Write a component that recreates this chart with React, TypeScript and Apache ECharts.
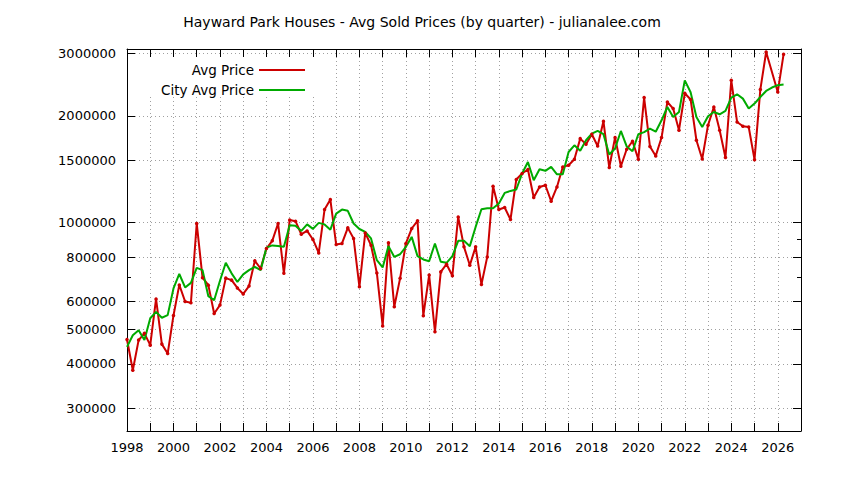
import { useEffect, useRef } from 'react'
import * as echarts from 'echarts'

const TITLE = 'Hayward Park Houses - Avg Sold Prices (by quarter) - julianalee.com'
const FONT = 'DejaVu Sans'
const START_YEAR = 1998 // first quarter of the data

// quarterly averages, 1998 Q1 .. 2026 Q2 (null = no sales that quarter)
const avgPrice = [
  469000, 384000, 467000, 488000,
  452000, 610000, 455000, 428000,
  548000, 668000, 600000, 595000,
  995000, 700000, 667000, 555000,
  586000, 698000, 689000, 655000,
  630000, 663000, 781000, 743000,
  846000, 889000, 995000, 720000,
  1017000, 1010000, 928000, 948000,
  897000, 822000, 1089000, 1162000,
  868000, 874000, 967000, 903000,
  660000, 936000, 864000, 722000,
  512000, 878000, 580000, 697000,
  874000, 963000, 1012000, 547000,
  712000, 493000, 727000, 764000,
  709000, 1038000, 855000, 759000,
  855000, 670000, 801000, 1267000,
  1089000, 1104000, 1021000, 1323000,
  1376000, 1412000, 1178000, 1261000,
  1275000, 1150000, 1261000, 1436000,
  1452000, 1509000, 1725000, 1663000,
  1775000, 1645000, 1931000, 1430000,
  1737000, 1442000, 1610000, 1696000,
  1510000, 2251000, 1640000, 1542000,
  1737000, 2188000, 2096000, 1822000,
  2315000, 2224000, 1707000, 1512000,
  1882000, 2118000, 1822000, 1526000,
  2518000, 1922000, 1869000, 1860000,
  1505000, 2371000, 3026000, null,
  2335000, 2980000,
]

const cityAvgPrice = [
  447000, 482000, 498000, 467000,
  538000, 561000, 540000, 549000,
  653000, 717000, 657000, 677000,
  746000, 735000, 621000, 605000,
  686000, 771000, 720000, 681000,
  715000, 735000, 751000, 735000,
  851000, 863000, 860000, 855000,
  984000, 980000, 948000, 989000,
  961000, 999000, 989000, 956000,
  1061000, 1089000, 1080000, 995000,
  960000, 942000, 903000, 784000,
  748000, 859000, 801000, 815000,
  855000, 912000, 805000, 788000,
  779000, 874000, 776000, 771000,
  805000, 889000, 889000, 859000,
  973000, 1091000, 1098000, 1098000,
  1133000, 1213000, 1229000, 1240000,
  1376000, 1483000, 1317000, 1415000,
  1400000, 1436000, 1369000, 1369000,
  1582000, 1652000, 1594000, 1707000,
  1782000, 1813000, 1775000, 1556000,
  1618000, 1813000, 1640000, 1590000,
  1775000, 1800000, 1841000, 1804000,
  1943000, 2118000, 1985000, 2050000,
  2518000, 2330000, 1985000, 1860000,
  1994000, 2050000, 2020000, 2064000,
  2251000, 2300000, 2236000, 2096000,
  2165000, 2260000, 2350000, 2403000,
  2440000, 2450000,
]

const yTicks = [300000, 400000, 500000, 600000, 800000, 1000000, 1500000, 2000000, 3000000]
const yMinorTicks = [700000, 900000]
const X_MIN = 1998
const X_MAX = 2027
const Y_MIN = 259000
const Y_MAX = 3085000

// y is plotted in log10 space so the gnuplot-style tick set can be placed by hand
const lg = (v: number) => Math.log10(v)
const toPoints = (vals: (number | null)[]) =>
  vals.map((v, i) => [START_YEAR + i / 4, v == null ? null : lg(v)])

const RED = '#cc0000'
const GREEN = '#00aa00'
const black = { color: '#000', width: 1 }
const grid = { show: true, lineStyle: { color: '#a0a0a0', width: 1, type: [1, 3] } }

function yAxis(position: 'left' | 'right', ticks: number[], len: number, opts: any = {}) {
  return {
    type: 'value',
    position,
    min: lg(Y_MIN),
    max: lg(Y_MAX),
    axisLine: { show: opts.line ?? false, lineStyle: black },
    axisTick: { show: true, inside: true, length: len, lineStyle: black, customValues: ticks.map(lg) },
    axisLabel: opts.labels
      ? {
          show: true,
          customValues: ticks.map(lg),
          formatter: (v: number) => String(Math.round(Math.pow(10, v) / 1000) * 1000),
          color: '#000',
          fontSize: 13,
          fontFamily: FONT,
          margin: 11,
        }
      : { show: false },
    splitLine: opts.split ? grid : { show: false },
  }
}

export default function App() {
  const ref = useRef<HTMLDivElement>(null)

  useEffect(() => {
    const el = ref.current
    if (!el) return
    const chart = echarts.init(el, null, { renderer: 'svg' })

    const legendBase = {
      right: 533,
      align: 'right',
      orient: 'vertical',
      itemWidth: 46,
      itemHeight: 14,
      selectedMode: false,
      itemStyle: { opacity: 0 },
      textStyle: { color: '#000', fontSize: 13.5, fontFamily: FONT },
    }

    chart.setOption({
      animation: false,
      backgroundColor: '#fff',
      textStyle: { fontFamily: FONT },
      title: {
        text: TITLE,
        left: 'center',
        top: 10,
        textStyle: { color: '#000', fontSize: 14, fontWeight: 'normal', fontFamily: FONT },
      },
      // opaque key box, as gnuplot hides the grid behind the key
      graphic: [
        { type: 'rect', left: 128, top: 57, z: 1, shape: { width: 190, height: 38 }, style: { fill: '#fff' } },
      ],
      legend: [
        { ...legendBase, top: 58, data: ['Avg Price'] },
        { ...legendBase, top: 78, data: ['City Avg Price'] },
      ],
      grid: { left: 127, right: 43, top: 49, bottom: 49 },
      xAxis: [
        {
          type: 'value',
          position: 'bottom',
          min: X_MIN,
          max: X_MAX,
          interval: 1,
          axisLine: { show: true, onZero: false, lineStyle: black },
          axisTick: { show: true, inside: true, length: 8, lineStyle: black },
          axisLabel: {
            formatter: (v: number) => (v % 2 === 0 ? String(v) : ''),
            color: '#000',
            fontSize: 13,
            fontFamily: FONT,
            margin: 10,
          },
          splitLine: grid,
        },
        {
          type: 'value',
          position: 'top',
          min: X_MIN,
          max: X_MAX,
          interval: 1,
          axisLine: { show: true, onZero: false, lineStyle: black },
          axisTick: { show: true, inside: true, length: 8, lineStyle: black },
          axisLabel: { show: false },
          splitLine: { show: false },
        },
      ],
      yAxis: [
        yAxis('left', yTicks, 8, { line: true, labels: true, split: true }),
        yAxis('left', yMinorTicks, 4),
        yAxis('right', yTicks, 8, { line: true }),
        yAxis('right', yMinorTicks, 4),
      ],
      series: [
        {
          name: 'Avg Price',
          type: 'line',
          data: toPoints(avgPrice),
          connectNulls: true,
          symbol: 'circle',
          symbolSize: 3.5,
          showSymbol: true,
          color: RED,
          lineStyle: { color: RED, width: 2 },
          itemStyle: { color: RED },
        },
        {
          name: 'City Avg Price',
          type: 'line',
          data: toPoints(cityAvgPrice),
          symbol: 'none',
          color: GREEN,
          lineStyle: { color: GREEN, width: 2 },
        },
      ],
    })

    return () => chart.dispose()
  }, [])

  return <div ref={ref} style={{ position: 'fixed', left: 0, top: 0, width: 844, height: 480 }} />
}
